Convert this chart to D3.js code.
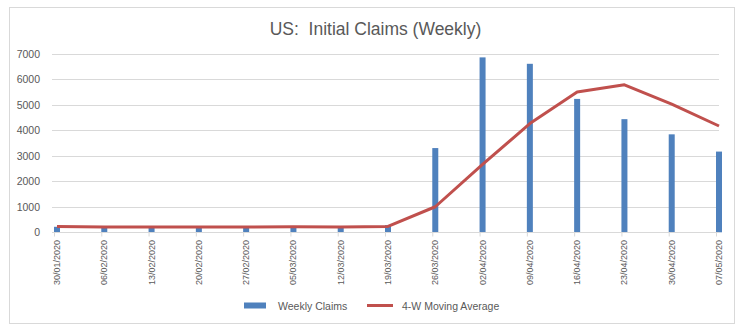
<!DOCTYPE html>
<html>
<head>
<meta charset="utf-8">
<script src="https://cdn.jsdelivr.net/npm/d3@7"></script>
<style>
  html, body { margin: 0; padding: 0; background: #fff; }
  svg text { font-family: "Liberation Sans", Arial, sans-serif; fill: #595959; }
</style>
</head>
<body>
<svg id="chart" width="743" height="333"></svg>
<script>
const categories = ["30/01/2020","06/02/2020","13/02/2020","20/02/2020","27/02/2020","05/03/2020","12/03/2020","19/03/2020","26/03/2020","02/04/2020","09/04/2020","16/04/2020","23/04/2020","30/04/2020","07/05/2020"];
const weeklyClaims = [216, 202, 210, 219, 216, 211, 211, 282, 3307, 6867, 6615, 5237, 4442, 3846, 3169];
const movingAverage = [225, 210, 208, 210, 212, 214, 212, 230, 1003, 2667, 4268, 5506, 5790, 5035, 4173];
const yTicks = [0, 1000, 2000, 3000, 4000, 5000, 6000, 7000];
const titleText = "US:  Initial Claims (Weekly)";
const seriesNames = ["Weekly Claims", "4-W Moving Average"];

const svg = d3.select("#chart");

// outer border
svg.append("rect").attr("x", 9.5).attr("y", 7.5).attr("width", 725).attr("height", 316)
  .attr("fill", "#fff").attr("stroke", "#d9d9d9").attr("stroke-width", 1);

const x = d3.scalePoint().domain(categories).range([57, 719]);
const y = d3.scaleLinear().domain([0, 7000]).range([232.3, 54]);
const plotLeft = 52, plotRight = 719;

// gridlines
svg.append("g").selectAll("line").data(yTicks.filter(d => d > 0)).join("line")
  .attr("x1", plotLeft).attr("x2", plotRight)
  .attr("y1", d => Math.round(y(d)) + 0.5).attr("y2", d => Math.round(y(d)) + 0.5)
  .attr("stroke", "#d9d9d9").attr("stroke-width", 1);

// y axis labels
const yAxis = d3.axisLeft(y).tickValues(yTicks).tickSize(0).tickPadding(0).tickFormat(d3.format("d"));
const gy = svg.append("g").attr("transform", "translate(40,0)").call(yAxis);
gy.select(".domain").remove();
gy.selectAll("text").attr("font-size", "10.5px").attr("fill", "#595959")
  .style("font-family", "'Liberation Sans', Arial, sans-serif");

// bars
const barW = 6;
svg.append("g").selectAll("rect").data(categories).join("rect")
  .attr("x", d => x(d) - barW / 2)
  .attr("width", barW)
  .attr("y", (d, i) => y(weeklyClaims[i]))
  .attr("height", (d, i) => y(0) - y(weeklyClaims[i]))
  .attr("fill", "#4f81bd");

// baseline axis + ticks
const xAxis = d3.axisBottom(x).tickSize(4).tickFormat("");
const gx = svg.append("g").attr("transform", `translate(0,${Math.round(y(0)) + 0.5})`).call(xAxis);
gx.select(".domain").attr("d", `M${plotLeft},0H${plotRight}`).attr("stroke", "#d9d9d9");
gx.selectAll(".tick line").attr("stroke", "#d9d9d9").attr("transform", "translate(-3,0)");

// x labels rotated
svg.append("g").selectAll("text").data(categories).join("text")
  .attr("transform", d => `translate(${x(d) + 3},${240}) rotate(-90)`)
  .attr("text-anchor", "end")
  .attr("font-size", "9px")
  .text(d => d);

// moving average line
const line = d3.line().x((d, i) => x(categories[i])).y(d => y(d));
svg.append("path").datum(movingAverage).attr("d", line)
  .attr("fill", "none").attr("stroke", "#c0504d").attr("stroke-width", 3)
  .attr("stroke-linejoin", "round");

// title
svg.append("text").attr("x", 375.5).attr("y", 35).attr("text-anchor", "middle")
  .style("white-space", "pre").attr("xml:space", "preserve")
  .attr("font-size", "17.5px").text(titleText);

// legend
const lg = svg.append("g");
lg.append("rect").attr("x", 244).attr("y", 302.5).attr("width", 22).attr("height", 6).attr("fill", "#4f81bd");
lg.append("text").attr("x", 278).attr("y", 309.5).attr("font-size", "10.5px").text(seriesNames[0]);
lg.append("line").attr("x1", 367).attr("x2", 393).attr("y1", 305.5).attr("y2", 305.5)
  .attr("stroke", "#c0504d").attr("stroke-width", 3);
lg.append("text").attr("x", 402).attr("y", 309.5).attr("font-size", "10.5px").text(seriesNames[1]);
</script>
</body>
</html>
